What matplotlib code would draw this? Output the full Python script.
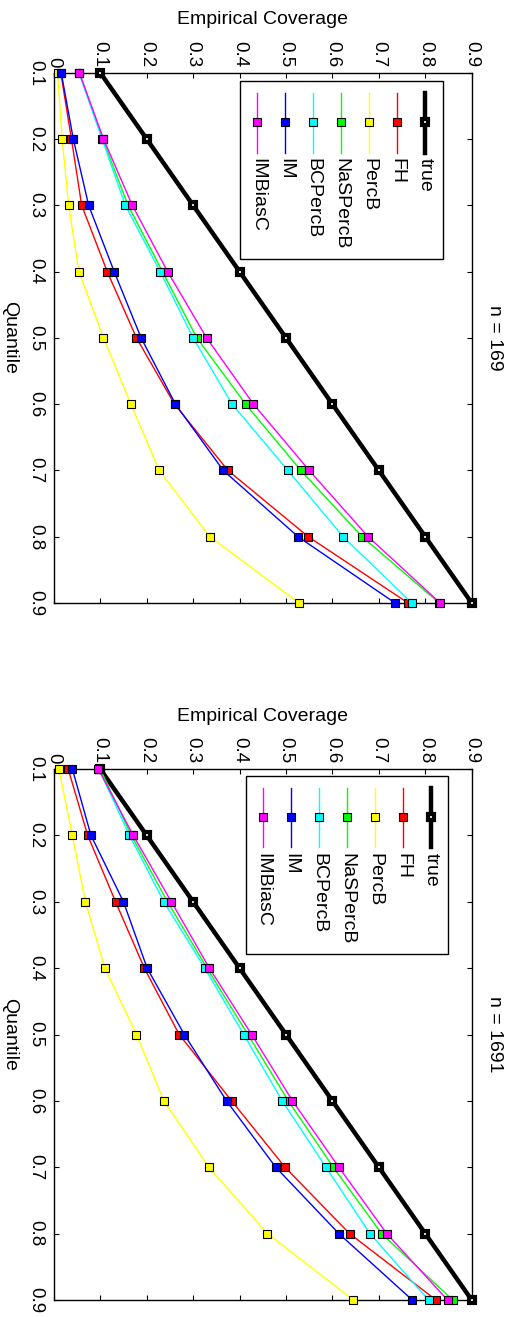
import matplotlib
matplotlib.use('Agg')
import matplotlib.pyplot as plt
from matplotlib.patches import Rectangle
from matplotlib.lines import Line2D

plt.rcParams['font.family'] = ['Liberation Sans', 'DejaVu Sans']

# ---------------- data ----------------
quantiles = [0.1, 0.2, 0.3, 0.4, 0.5, 0.6, 0.7, 0.8, 0.9]
true_cov = [0.1, 0.2, 0.3, 0.4, 0.5, 0.6, 0.7, 0.8, 0.9]
methods = ['FH', 'PercB', 'NaSPercB', 'BCPercB', 'IM', 'IMBiasC']
colors = ['#ff0000', '#ffff00', '#00ff00', '#00ffff', '#0000ff', '#ff00ff']
titles = ['n = 169', 'n = 1691']

cov_169 = {
    'FH':       [0.015, 0.038, 0.060, 0.115, 0.178, 0.260, 0.375, 0.548, 0.763],
    'PercB':    [0.008, 0.018, 0.032, 0.054, 0.107, 0.166, 0.227, 0.336, 0.528],
    'NaSPercB': [0.055, 0.105, 0.160, 0.234, 0.308, 0.413, 0.532, 0.664, 0.830],
    'BCPercB':  [0.054, 0.104, 0.154, 0.229, 0.300, 0.384, 0.504, 0.623, 0.771],
    'IM':       [0.016, 0.042, 0.075, 0.130, 0.188, 0.262, 0.365, 0.526, 0.735],
    'IMBiasC':  [0.055, 0.107, 0.169, 0.245, 0.329, 0.430, 0.550, 0.677, 0.832],
}
cov_1691 = {
    'FH':       [0.031, 0.073, 0.133, 0.195, 0.270, 0.383, 0.498, 0.637, 0.823],
    'PercB':    [0.011, 0.040, 0.068, 0.110, 0.178, 0.237, 0.334, 0.460, 0.645],
    'NaSPercB': [0.100, 0.167, 0.245, 0.330, 0.418, 0.505, 0.602, 0.706, 0.859],
    'BCPercB':  [0.097, 0.163, 0.237, 0.325, 0.409, 0.492, 0.586, 0.681, 0.807],
    'IM':       [0.040, 0.080, 0.150, 0.201, 0.281, 0.372, 0.478, 0.614, 0.772],
    'IMBiasC':  [0.096, 0.171, 0.253, 0.335, 0.426, 0.514, 0.614, 0.717, 0.848],
}
panels = [cov_169, cov_1691]

xticks = [0, 0.1, 0.2, 0.3, 0.4, 0.5, 0.6, 0.7, 0.8, 0.9]
xticklabels = ['0', '0.1', '0.2', '0.3', '0.4', '0.5', '0.6', '0.7', '0.8', '0.9']
yticklabels = ['0.1', '0.2', '0.3', '0.4', '0.5', '0.6', '0.7', '0.8', '0.9']

# ---------------- layout ----------------
W, H = 514, 1317
fig = plt.figure(figsize=(W / 100, H / 100), dpi=100)

def fx(px):
    return px / W

def fy(py):
    return 1 - py / H

axes_px = [(53.8, 72.7, 471.7, 603.0), (53.8, 769.0, 471.7, 1300.0)]
legend_px = [(240.0, 81.0), (245.7, 775.7)]

FS = 14
TFS = 13.5

true_style = dict(color='black', lw=3.2, marker='s', ms=4.9, mfc='white',
                  mec='black', mew=3.0)

def method_style(c):
    return dict(color=c, lw=1.0, marker='s', ms=5.3, mfc=c, mec='black', mew=0.8)

for i, (data, title) in enumerate(zip(panels, titles)):
    x0, y0, x1, y1 = axes_px[i]
    ax = fig.add_axes([fx(x0), fy(y1), (x1 - x0) / W, (y1 - y0) / H])
    ax.plot(true_cov, quantiles, clip_on=False, zorder=3, **true_style)
    for m, c in zip(methods, colors):
        ax.plot(data[m], quantiles, clip_on=False, zorder=4, **method_style(c))
    ax.set_xlim(0, 0.9)
    ax.set_ylim(0.9, 0.1)
    ax.xaxis.tick_top()
    ax.set_xticks(xticks)
    ax.set_xticklabels(xticklabels, rotation=-90, fontsize=TFS)
    ax.set_yticks(quantiles)
    ax.set_yticklabels(yticklabels, rotation=-90, fontsize=TFS, va='center')
    ax.tick_params(direction='in', top=True, bottom=True, left=True, right=True,
                   labeltop=True, labelbottom=False, length=3.8, width=0.8)
    ax.tick_params(axis='x', pad=4)
    ax.tick_params(axis='y', pad=7)
    for s in ax.spines.values():
        s.set_linewidth(1.0)

    cx = (x0 + x1) / 2
    cy = (y0 + y1) / 2
    fig.text(fx(cx), fy(y0 - 52.7), 'Empirical Coverage', ha='center', va='center',
             fontsize=FS)
    fig.text(fx(9.5), fy(cy), 'Quantile', rotation=-90, ha='center', va='center',
             fontsize=FS)
    fig.text(fx(494.5), fy(cy), title, rotation=-90, ha='center', va='center',
             fontsize=FS)

    # legend (drawn rotated, as in the reference)
    L, T = legend_px[i]
    box = Rectangle((fx(L), fy(T + 178)), 202.7 / W, 178 / H, transform=fig.transFigure,
                    facecolor='white', edgecolor='black', lw=1.0, zorder=5)
    fig.add_artist(box)
    labels = ['true'] + methods
    styles = [true_style] + [method_style(c) for c in colors]
    for k, (lab, st) in enumerate(zip(labels, styles)):
        colx = L + 185.3 - 28.0 * k
        ln = Line2D([fx(colx), fx(colx)], [fy(T + 12.3), fy(T + 71.7)],
                    transform=fig.transFigure, color=st['color'], lw=st['lw'], zorder=6)
        fig.add_artist(ln)
        mk = Line2D([fx(colx)], [fy(T + 41.3)], transform=fig.transFigure, ls='none',
                    marker='s', ms=st['ms'], mfc=st['mfc'], mec=st['mec'],
                    mew=st['mew'], zorder=7)
        fig.add_artist(mk)
        fig.text(fx(colx), fy(T + 77), lab, rotation=-90, ha='center', va='top',
                 fontsize=FS, zorder=8)

fig.savefig('out.png', dpi=100)
